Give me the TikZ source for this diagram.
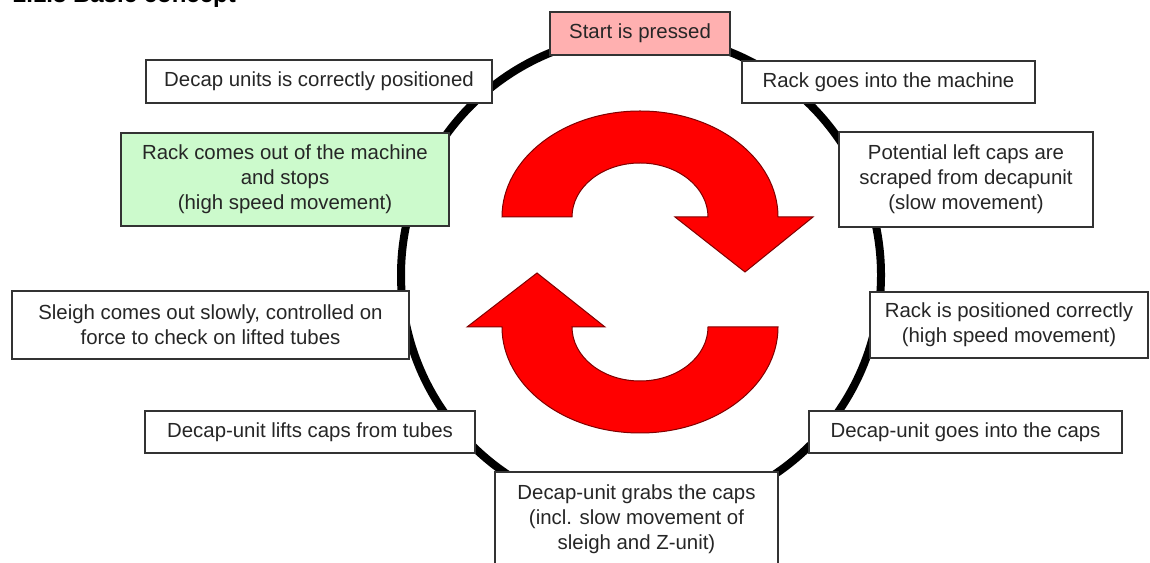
\documentclass[tikz,border=0pt]{standalone}
\usepackage{fontspec}
\setmainfont{Liberation Sans}
\definecolor{startpink}{RGB}{255,176,176}
\definecolor{stopgreen}{RGB}{204,250,204}
\definecolor{arrowred}{RGB}{255,0,0}

\begin{document}
\begin{tikzpicture}[x=0.5pt,y=0.5pt,
  stepbox/.style={draw=black!80, line width=0.6pt, fill=white, align=center,
    inner sep=0pt, text=black!85, font=\fontsize{10.2}{12.5}\selectfont},
  turn/.style={fill=arrowred, draw=red!50!black, line width=0.5pt}]
\useasboundingbox (0,0) rectangle (1150,562);

% Heading (cut off at the top)
\node[anchor=base west, font=\fontsize{12}{14}\bfseries\selectfont] (title) at (6,559) {2.1.3 Basic concept};

% Ring
\draw[line width=4pt] (641,287) circle[radius=120pt];

% Steps of the cycle
\node[stepbox, fill=startpink, minimum width=90pt, minimum height=21.5pt] (start) at (640,528.5) {Start is pressed};
\node[stepbox, minimum width=146.5pt, minimum height=21pt] (rackin) at (888.5,480) {Rack goes into the machine};
\node[stepbox, minimum width=127pt, minimum height=47.5pt] (scrape) at (966,382.5) {Potential left caps are\\scraped from decapunit\\(slow movement)};
\node[stepbox, minimum width=139pt, minimum height=33pt] (position) at (1009,237) {Rack is positioned correctly\\(high speed movement)};
\node[stepbox, minimum width=156.5pt, minimum height=21pt] (intocaps) at (965.5,130) {Decap-unit goes into the caps};
\node[stepbox, minimum width=141.5pt, minimum height=47.5pt] (grab) at (636.5,42.5) {Decap-unit grabs the caps\\(incl. slow movement of\\sleigh and Z-unit)};
\node[stepbox, minimum width=165pt, minimum height=21pt] (lift) at (310,130) {Decap-unit lifts caps from tubes};
\node[stepbox, minimum width=198.5pt, minimum height=34pt] (sleigh) at (210.5,237) {Sleigh comes out slowly, controlled on\\force to check on lifted tubes};
\node[stepbox, fill=stopgreen, minimum width=164pt, minimum height=46.5pt] (rackout) at (285,382.5) {Rack comes out of the machine\\and stops\\(high speed movement)};
\node[stepbox, minimum width=173pt, minimum height=21.5pt] (decappos) at (319,480.5) {Decap units is correctly positioned};

% Upper turning arrow
\draw[turn] (502,345) arc[start angle=180, end angle=0, x radius=69pt, y radius=53pt]
  -- (813,345) -- (745,290) -- (675,345) -- (708,345)
  arc[start angle=0, end angle=180, x radius=34pt, y radius=27pt] -- cycle;

% Lower turning arrow
\draw[turn] (778,235) arc[start angle=0, end angle=-180, x radius=69pt, y radius=53pt]
  -- (467,235) -- (537,289) -- (605,235) -- (572,235)
  arc[start angle=180, end angle=360, x radius=34pt, y radius=27pt] -- cycle;

\end{tikzpicture}
\end{document}
